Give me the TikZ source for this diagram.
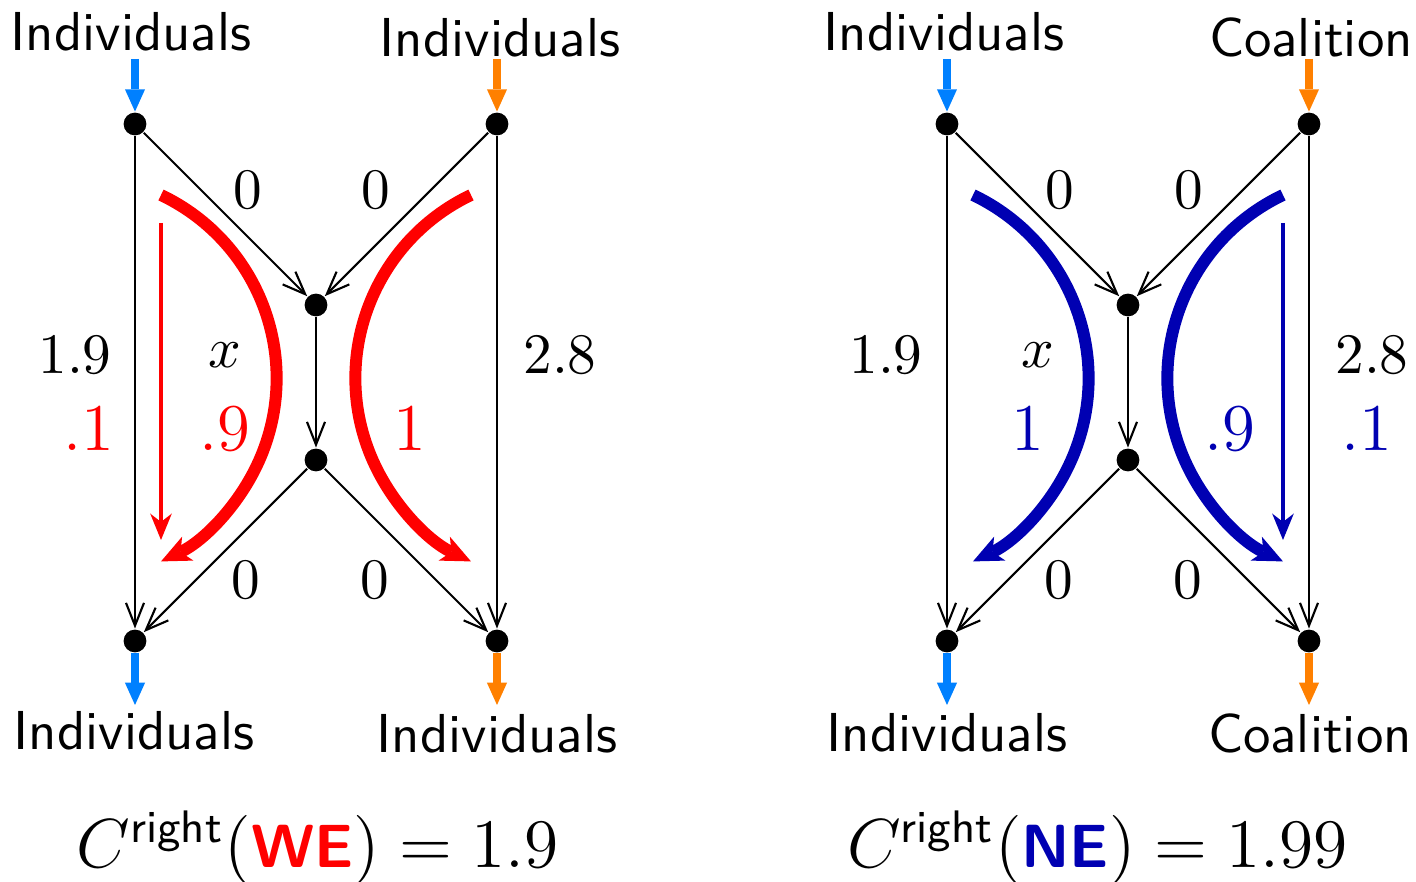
\documentclass[tikz,border=0pt]{standalone}
\usepackage{fix-cm}
\usetikzlibrary{arrows.meta}
\definecolor{flowred}{RGB}{255,0,0}
\colorlet{flowblue}{blue!70!black}
\definecolor{inblue}{RGB}{0,128,255}
\definecolor{inorange}{RGB}{255,128,0}
\tikzset{
  vtx/.style={circle,fill=black,inner sep=0pt,minimum size=4.3pt},
  edge/.style={line width=0.4pt,-{Straight Barb[length=4.3pt,width=3.4pt]}},
  io/.style={line width=1.45pt,-{Triangle[length=4.2pt,width=3.8pt,line width=0pt]}},
  tag/.style={font=\fontsize{10.35}{12}\sffamily,anchor=base,inner sep=0pt},
  num/.style={font=\fontsize{10.8}{13}\selectfont,inner sep=0pt},
  fnum/.style={font=\fontsize{12.6}{15}\selectfont,inner sep=0pt},
  bigflow/.style={line width=2.26pt,-{Stealth[length=5.6pt,width=5pt,inset=1.5pt,line width=0pt]}},
  thinflow/.style={line width=0.9pt,-{Stealth[length=5pt,width=4.1pt,inset=1.6pt,line width=0pt]}},
  formula/.style={font=\fontsize{13.1}{16}\selectfont,anchor=base,inner sep=0pt},
}
\newcommand{\supright}{\mbox{\fontsize{8.6}{10}\sffamily right}}
\newcommand{\eqtag}[1]{\mbox{\fontsize{11.5}{14}\sffamily\bfseries #1}}
\begin{document}
\begin{tikzpicture}[x=0.18868pt,y=-0.18868pt]
\useasboundingbox (0,0) rectangle (1416,882);

% ---------- left diagram ----------
\node[vtx] (a1) at (135,124) {};
\node[vtx] (b1) at (497,124) {};
\node[vtx] (m1) at (316,305) {};
\node[vtx] (n1) at (316,460) {};
\node[vtx] (c1) at (135,641) {};
\node[vtx] (d1) at (497,641) {};
\coordinate (a1in) at (135,59);
\coordinate (b1in) at (497,59);
\coordinate (c1out) at (135,705);
\coordinate (d1out) at (497,705);

\draw[edge] (a1) -- (m1);
\draw[edge] (b1) -- (m1);
\draw[edge] (m1) -- (n1);
\draw[edge] (n1) -- (c1);
\draw[edge] (n1) -- (d1);
\draw[edge] (a1) -- (c1);
\draw[edge] (b1) -- (d1);

\draw[io,inblue] (a1in) -- (a1);
\draw[io,inorange] (b1in) -- (b1);
\draw[io,inblue] (c1) -- (c1out);
\draw[io,inorange] (d1) -- (d1out);

\node[tag] (t1) at (131,50) {Individuals};
\node[tag] (t2) at (500,57) {Individuals};
\node[tag] (t3) at (134,750) {Individuals};
\node[tag] (t4) at (497,753) {Individuals};

\node[num] (l1) at (248,190) {$0$};
\node[num] (l2) at (376,190) {$0$};
\node[num] (l3) at (246,580) {$0$};
\node[num] (l4) at (375,580) {$0$};
\node[num] (l5) at (75,355) {$1.9$};
\node[num] (l6) at (225,355) {$x$};
\node[num] (l7) at (560,355) {$2.8$};
\node[fnum,text=flowred] (l8) at (88.5,428.5) {$.1$};
\node[fnum,text=flowred] (l9) at (224.5,428.5) {$.9$};
\node[fnum,text=flowred] (l10) at (410,428.5) {$1$};

\coordinate (r1s) at (161,223);
\coordinate (r1e) at (161,540);
\draw[thinflow,flowred] (r1s) -- (r1e);
\draw[bigflow,flowred] (161,195) arc[start angle=64.5,end angle=-64.5,radius=38.3pt];
\draw[bigflow,flowred] (471,195) arc[start angle=115.5,end angle=244.5,radius=38.3pt];

\node[formula] (f1) at (317.5,868) {$C^{\supright}(\textcolor{flowred}{\eqtag{WE}}) = 1.9$};

% ---------- right diagram ----------
\node[vtx] (a2) at (947,124) {};
\node[vtx] (b2) at (1309,124) {};
\node[vtx] (m2) at (1128,305) {};
\node[vtx] (n2) at (1128,460) {};
\node[vtx] (c2) at (947,641) {};
\node[vtx] (d2) at (1309,641) {};
\coordinate (a2in) at (947,59);
\coordinate (b2in) at (1309,59);
\coordinate (c2out) at (947,705);
\coordinate (d2out) at (1309,705);

\draw[edge] (a2) -- (m2);
\draw[edge] (b2) -- (m2);
\draw[edge] (m2) -- (n2);
\draw[edge] (n2) -- (c2);
\draw[edge] (n2) -- (d2);
\draw[edge] (a2) -- (c2);
\draw[edge] (b2) -- (d2);

\draw[io,inblue] (a2in) -- (a2);
\draw[io,inorange] (b2in) -- (b2);
\draw[io,inblue] (c2) -- (c2out);
\draw[io,inorange] (d2) -- (d2out);

\node[tag] (u1) at (944,50) {Individuals};
\node[tag] (u2) at (1311,57) {Coalition};
\node[tag] (u3) at (947,752) {Individuals};
\node[tag] (u4) at (1310,753) {Coalition};

\node[num] (k1) at (1060,190) {$0$};
\node[num] (k2) at (1189,190) {$0$};
\node[num] (k3) at (1059,580) {$0$};
\node[num] (k4) at (1188,580) {$0$};
\node[num] (k5) at (886,355) {$1.9$};
\node[num] (k6) at (1038,355) {$x$};
\node[num] (k7) at (1372,355) {$2.8$};
\node[fnum,text=flowblue] (k8) at (1027.5,428.5) {$1$};
\node[fnum,text=flowblue] (k9) at (1229.5,428.5) {$.9$};
\node[fnum,text=flowblue] (k10) at (1367,428.5) {$.1$};

\coordinate (r2s) at (1283,223);
\coordinate (r2e) at (1283,540);
\draw[thinflow,flowblue] (r2s) -- (r2e);
\draw[bigflow,flowblue] (973,195) arc[start angle=64.5,end angle=-64.5,radius=38.3pt];
\draw[bigflow,flowblue] (1283,195) arc[start angle=115.5,end angle=244.5,radius=38.3pt];

\node[formula] (f2) at (1097.5,868) {$C^{\supright}(\textcolor{flowblue}{\eqtag{NE}}) = 1.99$};
\end{tikzpicture}
\end{document}
